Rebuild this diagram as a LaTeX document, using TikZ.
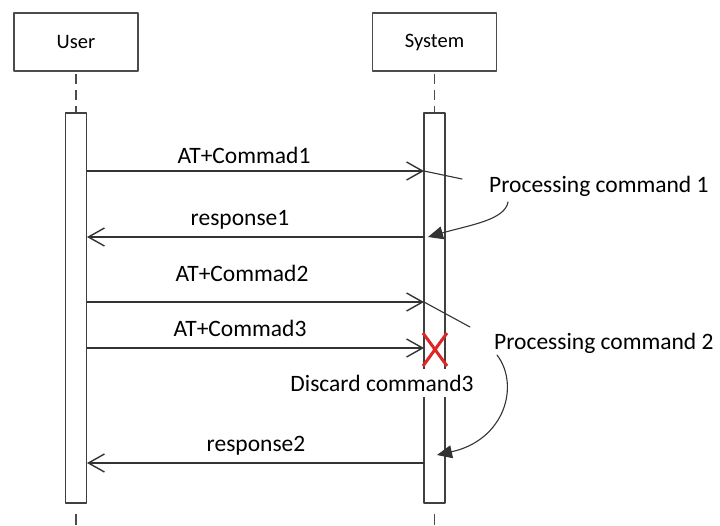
\documentclass[tikz,border=0pt]{standalone}
\usepackage{fontspec}
\setmainfont{Carlito}
\usetikzlibrary{arrows.meta}
\definecolor{xred}{RGB}{222,38,38}
\tikzset{
	actor/.style={draw=black!70, line width=1.6pt, minimum width=124pt, minimum height=58pt, font=\fontsize{20.5}{24}\selectfont},
	bar/.style={draw=black!75, line width=1.3pt, fill=white, minimum width=21pt, minimum height=390pt, inner sep=0pt},
	life/.style={draw=black!70, line width=1.3pt, line cap=butt, dash pattern=on 10pt off 6pt, dash phase=14pt},
	msg/.style={draw=black!80, line width=1.4pt, -{Straight Barb[length=16pt,width=18pt]}},
	hint/.style={draw=black!80, line width=1.1pt},
	note/.style={draw=black!80, line width=1.1pt, -{Triangle[length=15pt,width=13pt]}},
	lbl/.style={font=\fontsize{23.5}{28}\selectfont, inner sep=0pt},
}
\begin{document}
\begin{tikzpicture}[x=1pt, y=-1pt, line join=round, line cap=round]
	\useasboundingbox (0,0) rectangle (720,525);
	% Teilnehmer
	\node[actor] (user) at (76,42) {User};
	\node[actor] (system) at (434.5,42) {System};
	% Aktivierung
	\node[bar] (ubar) at (76,308) {};
	\node[bar] (sbar) at (434.5,308) {};
	\coordinate (uend) at (76,525);
	\coordinate (send) at (434.5,525);
	\draw[life] (user.south) -- (ubar.north);
	\draw[life] (system.south) -- (sbar.north);
	\draw[life, dash pattern=on 12pt off 10pt, dash phase=12pt] (ubar.south) -- (uend);
	\draw[life, dash pattern=on 12pt off 10pt, dash phase=12pt] (sbar.south) -- (send);
	% Nachrichten
	\foreach \n/\y in {1/171,2/237,3/302,4/348,5/463}{
		\coordinate (u\n) at (87,\y);
		\coordinate (s\n) at (424,\y);
	}
	\draw[msg] (u1) -- (s1);
	\draw[msg] (s2) -- (u2);
	\draw[msg] (u3) -- (s3);
	\draw[msg] (u4) -- (s4);
	\draw[msg] (s5) -- (u5);
	\node[lbl] (c1) at (244,155) {AT+Commad1};
	\node[lbl] (r1) at (240,220) {response1};
	\node[lbl] (c2) at (242,273) {AT+Commad2};
	\node[lbl] (c3) at (240,328) {AT+Commad3};
	\node[lbl] (r2) at (256,446) {response2};
	% Verarbeitung
	\node[lbl, anchor=west] (p1) at (489,186) {Processing command 1};
	\node[lbl, anchor=west] (p2) at (494,343) {Processing command 2};
	\coordinate (t1) at (462,179);
	\coordinate (t2) at (470,327);
	\draw[hint] (s1) -- (t1);
	\draw[hint] (s3) -- (t2);
	\coordinate (a1) at (508,202);
	\coordinate (h1) at (428,237);
	\coordinate (a2) at (497,355);
	\coordinate (h2) at (437,455);
	\draw[note] (a1) .. controls (505,220) and (470,225) .. (h1);
	\draw[note] (a2) .. controls (520,385) and (505,440) .. (h2);
	% verworfen
	\draw[xred, line width=3pt, line cap=butt] (423,333) -- (447,366) (447,333) -- (423,366);
	\node[lbl, fill=white, inner xsep=2pt, inner ysep=6pt] (d3) at (382,383) {Discard command3};
\end{tikzpicture}
\end{document}
